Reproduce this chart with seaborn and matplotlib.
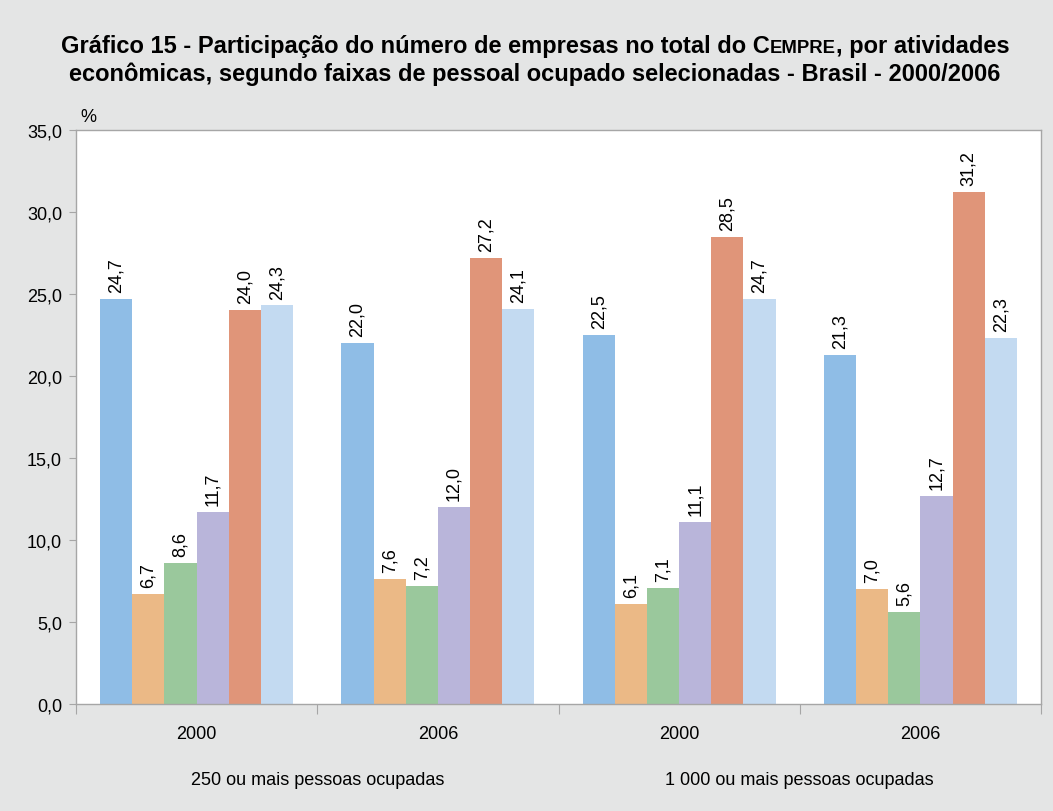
import seaborn as sns
import pandas as pd
import matplotlib.pyplot as plt
from matplotlib import transforms

# valores (%) por grupo, na ordem das 6 atividades
grupos = ['250 - 2000', '250 - 2006', '1 000 - 2000', '1 000 - 2006']
anos = ['2000', '2006', '2000', '2006']
faixas = ['250 ou mais pessoas ocupadas', '1 000 ou mais pessoas ocupadas']
atividades = ['Atividade 1', 'Atividade 2', 'Atividade 3',
              'Atividade 4', 'Atividade 5', 'Atividade 6']
v_250_2000 = [24.7, 6.7, 8.6, 11.7, 24.0, 24.3]
v_250_2006 = [22.0, 7.6, 7.2, 12.0, 27.2, 24.1]
v_1000_2000 = [22.5, 6.1, 7.1, 11.1, 28.5, 24.7]
v_1000_2006 = [21.3, 7.0, 5.6, 12.7, 31.2, 22.3]
cores = ['#8fbde6', '#ebb986', '#9ac89c', '#b9b5da', '#e09579', '#c3daf1']

linhas = []
for g, vals in zip(grupos, [v_250_2000, v_250_2006, v_1000_2000, v_1000_2006]):
    for a, v in zip(atividades, vals):
        linhas.append({'grupo': g, 'atividade': a, 'valor': v})
df = pd.DataFrame(linhas)

sns.set_style('white')
plt.rcParams['font.family'] = ['Liberation Sans', 'DejaVu Sans']
plt.rcParams['text.color'] = 'black'
plt.rcParams['xtick.color'] = 'black'
plt.rcParams['ytick.color'] = 'black'

fig = plt.figure(figsize=(10.53, 8.12), dpi=100, facecolor='#e4e5e5')
ax = fig.add_axes([76 / 1053, 1 - 705 / 812, (1041 - 76) / 1053, (705 - 131) / 812])
ax.set_facecolor('white')

sns.barplot(data=df, x='grupo', y='valor', hue='atividade', palette=cores,
            width=0.8, saturation=1, legend=False, ax=ax, errorbar=None,
            linewidth=0)

for cont in ax.containers:
    labs = [f'{v:.1f}'.replace('.', ',') for v in cont.datavalues]
    ax.bar_label(cont, labels=labs, rotation=90, padding=5, fontsize=13, color='black')

ax.set_ylim(0, 35)
ax.set_xlim(-0.5, 3.5)
yt = [0, 5, 10, 15, 20, 25, 30, 35]
ax.set_yticks(yt)
ax.set_yticklabels([f'{t:.1f}'.replace('.', ',') for t in yt], fontsize=13)
ax.set_xticks([-0.5, 0.5, 1.5, 2.5, 3.5])
ax.set_xticklabels([])
ax.set_xticks([0, 1, 2, 3], minor=True)
ax.set_xticklabels(anos, minor=True, fontsize=13)
ax.tick_params(axis='x', which='major', length=7, color='#a6a6a6', direction='out', bottom=True)
ax.tick_params(axis='x', which='minor', length=0, pad=15)
ax.tick_params(axis='y', length=5, color='#a6a6a6', direction='out', left=True, pad=5)
ax.set_xlabel('')
ax.set_ylabel('')
for s in ax.spines.values():
    s.set_color('#a6a6a6')
    s.set_linewidth(1)

tr = transforms.blended_transform_factory(ax.transData, fig.transFigure)
ax.text(0.5, 1 - 781 / 812, faixas[0], transform=tr, ha='center', va='center', fontsize=13)
ax.text(2.5, 1 - 781 / 812, faixas[1], transform=tr, ha='center', va='center', fontsize=13)
fig.text(80 / 1053, 1 - 118 / 812, '%', ha='left', va='center', fontsize=13)


def linha_titulo(partes, y_base):
    # partes: lista de (texto, tamanho), desenhadas lado a lado e centradas
    r = fig.canvas.get_renderer()
    objs = []
    total = 0
    for txt, fs in partes:
        t = fig.text(0, 1 - y_base / 812, txt, fontsize=fs, fontweight='bold',
                     ha='left', va='baseline')
        w = t.get_window_extent(r).width
        objs.append((t, w))
        total += w
    x = 535 - total / 2
    for t, w in objs:
        t.set_x(x / 1053)
        x += w


linha_titulo([('Gráfico 15 - Participação do número de empresas no total do C', 17),
              ('EMPRE', 13.3), (', por atividades', 17)], 53)
linha_titulo([('econômicas, segundo faixas de pessoal ocupado selecionadas - Brasil - 2000/2006', 17)], 81)

plt.savefig('out.png', dpi=100, facecolor=fig.get_facecolor())
